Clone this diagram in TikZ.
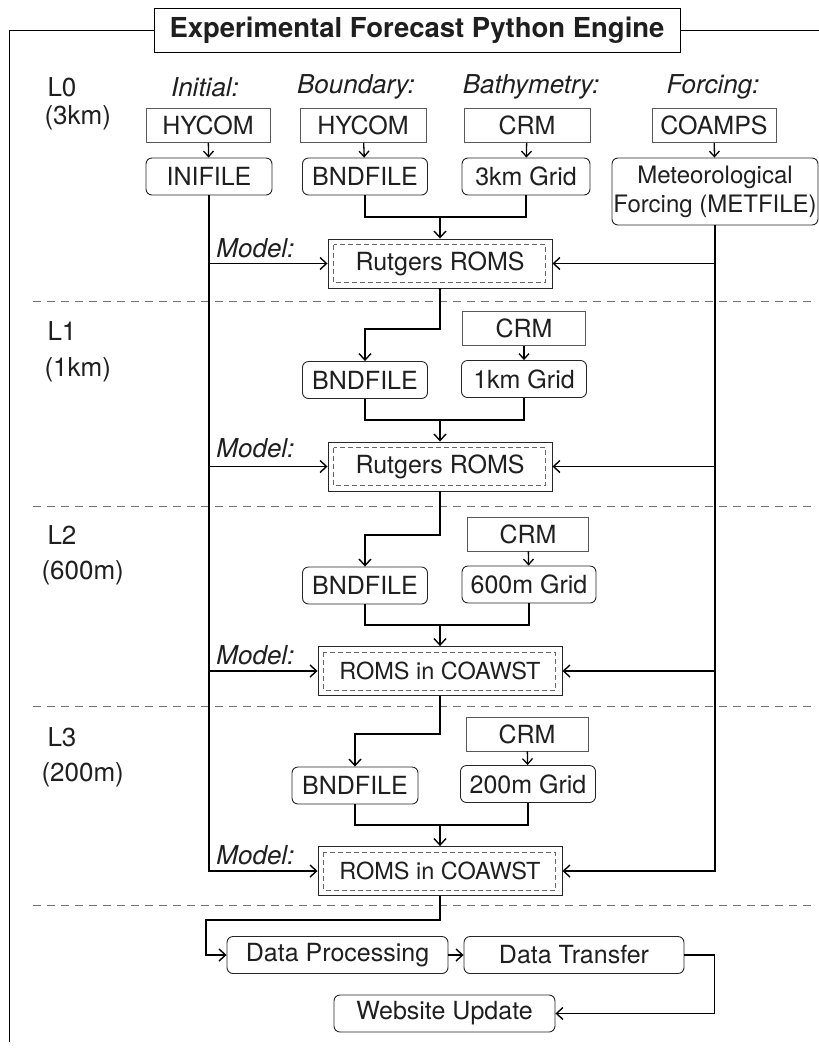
\documentclass[tikz,border=0pt]{standalone}
\usepackage{fontspec}
\setmainfont{TeX Gyre Heros}
\usepackage{tikz}
\usetikzlibrary{arrows.meta, positioning, calc}

\begin{document}
\begin{tikzpicture}[x=1pt, y=-1pt,
  every node/.style={font=\fontsize{25}{28}\selectfont, text=black!88},
  src/.style={draw=black!65, line width=0.9pt, minimum height=34pt, inner sep=0pt},
  file/.style={draw=black!85, rounded corners=6pt, line width=0.9pt, minimum height=37pt, inner sep=0pt},
  model/.style={draw=black!85, line width=0.9pt, minimum height=49pt, inner sep=0pt},
  hdr/.style={font=\fontsize{26}{29}\selectfont\itshape},
  lvl/.style={anchor=west, font=\fontsize{26}{29}\selectfont},
  flow/.style={line width=1.8pt},
  arr/.style={-{Straight Barb[length=6.5pt,width=12pt,line width=1.4pt]}},
  small/.style={line width=1.3pt, -{Straight Barb[length=5.5pt,width=10pt,line width=1.3pt]}},
  levelsep/.style={black!55, line width=0.9pt, dash pattern=on 8pt off 6pt},
  inner/.style={black!60, line width=0.8pt, dash pattern=on 5pt off 3pt}
]
  \useasboundingbox (0,0) rectangle (819,1050);

  % Frame and title
  \node[draw, line width=0.9pt, minimum width=526pt, minimum height=44pt,
        font=\fontsize{27.5}{30}\selectfont\bfseries] (title) at (417,30) {Experimental Forecast Python Engine};
  \coordinate (fbot) at (9,1042);
  \draw[line width=0.9pt] (title.west) -- (9,30) -- (fbot);
  \draw[line width=0.9pt] (title.east) -- (819,30);

  % Level separators
  \foreach \y in {301,506,706,905}
    \draw[levelsep] (33,\y) -- (812,\y);

  % Level labels
  \node[lvl] (l0) at (44,87) {L0};
  \node[lvl] (l0r) at (41,118) {(3km)};
  \node[lvl] (l1) at (44,331) {L1};
  \node[lvl] (l1r) at (41,370) {(1km)};
  \node[lvl] (l2) at (44,535) {L2};
  \node[lvl] (l2r) at (38,573) {(600m)};
  \node[lvl] (l3) at (44,737) {L3};
  \node[lvl] (l3r) at (38,775) {(200m)};

  % Column headers
  \node[hdr] (hini) at (205,87) {Initial:};
  \node[hdr] (hbnd) at (356,87) {Boundary:};
  \node[hdr] (hbat) at (531,87) {Bathymetry:};
  \node[hdr] (hfor) at (713,87) {Forcing:};

  % L0 inputs
  \node[src, minimum width=124pt] (hyc1) at (208,125.5) {HYCOM};
  \node[file, minimum width=126pt] (ini) at (209,176.5) {INIFILE};
  \node[src, minimum width=126pt] (hyc2) at (363,125.5) {HYCOM};
  \node[file, minimum width=125pt] (bnd0) at (365,176.5) {BNDFILE};
  \node[src, minimum width=126pt] (crm0) at (527,125.5) {CRM};
  \node[file, minimum width=128pt] (grd0) at (526,176.5) {3km Grid};
  \node[src, minimum width=124pt] (coa) at (714,125.5) {COAMPS};
  \node[file, minimum width=206pt, minimum height=67pt, align=center,
        font=\fontsize{24}{29}\selectfont] (met) at (715,191.5) {Meteorological\\Forcing (METFILE)};

  % L1 inputs
  \node[file, minimum width=125pt] (bnd1) at (365,380) {BNDFILE};
  \node[src, minimum width=123pt] (crm1) at (524,328.5) {CRM};
  \node[file, minimum width=125pt] (grd1) at (524,379) {1km Grid};

  % L2 inputs
  \node[file, minimum width=125pt] (bnd2) at (365,585.5) {BNDFILE};
  \node[src, minimum width=121pt] (crm2) at (528,534) {CRM};
  \node[file, minimum width=134pt] (grd2) at (529,584.5) {600m Grid};

  % L3 inputs
  \node[file, minimum width=126pt] (bnd3) at (355,785.5) {BNDFILE};
  \node[src, minimum width=122pt] (crm3) at (527,734) {CRM};
  \node[file, minimum width=135pt] (grd3) at (528,784) {200m Grid};

  % Models
  \node[model, minimum width=224pt, font=\fontsize{25}{28}\selectfont] (r0) at (440,263.5) {Rutgers ROMS};
  \node[model, minimum width=224pt, font=\fontsize{25}{28}\selectfont] (r1) at (440,466.5) {Rutgers ROMS};
  \node[model, minimum width=244pt, font=\fontsize{23.5}{26}\selectfont] (r2) at (440,671) {ROMS in COAWST};
  \node[model, minimum width=244pt, font=\fontsize{23.5}{26}\selectfont] (r3) at (440,871) {ROMS in COAWST};
  \foreach \m in {r0,r1,r2,r3}
    \draw[inner] ($(\m.north west)+(6,6)$) rectangle ($(\m.south east)+(-7,-6)$);

  \node[hdr, anchor=east] (m0) at (298,248) {Model:};
  \node[hdr, anchor=east] (m1) at (298,448) {Model:};
  \node[hdr, anchor=east] (m2) at (298,655) {Model:};
  \node[hdr, anchor=east] (m3) at (298,855) {Model:};

  % Post processing
  \node[file, minimum width=221pt] (dp) at (337.5,955) {Data Processing};
  \node[file, minimum width=220pt] (dt) at (574,955) {Data Transfer};
  \node[file, minimum width=221pt] (wu) at (444.5,1013.5) {Website Update};

  % Source arrows
  \draw[small] (hyc1) -- (ini);
  \draw[small] (hyc2) -- (bnd0);
  \draw[small] (crm0) -- (grd0);
  \draw[small] (coa) -- (met);
  \draw[small] (crm1) -- (grd1);
  \draw[small] (crm2) -- (grd2);
  \draw[small] (crm3) -- (grd3);

  % Boundary + grid into models
  \coordinate (j0) at (440,217);
  \coordinate (j1) at (440,420);
  \coordinate (j2) at (440,625);
  \coordinate (j3) at (440,825);
  \draw[flow] (bnd0.south) |- (j0) -| (grd0.south);
  \draw[flow] (bnd1.south) |- (j1) -| (grd1.south);
  \draw[flow] (bnd2.south) |- (j2) -| (grd2.south);
  \draw[flow] (bnd3.south) |- (j3) -| (grd3.south);
  \draw[flow, arr] (j0) -- (r0.north);
  \draw[flow, arr] (j1) -- (r1.north);
  \draw[flow, arr] (j2) -- (r2.north);
  \draw[flow, arr] (j3) -- (r3.north);

  % Parent model to child boundary
  \coordinate (k1) at (440,329);
  \coordinate (k2) at (440,535);
  \coordinate (k3) at (440,734);
  \draw[flow, arr] (r0.south) -- (k1) -| (bnd1.north);
  \draw[flow, arr] (r1.south) -- (k2) -| (bnd2.north);
  \draw[flow, arr] (r2.south) -- (k3) -| (bnd3.north);

  % Initial and forcing lines
  \draw[flow, arr] (ini.south) |- (r3.west);
  \draw[flow, arr] (met.south) |- (r3.east);
  \foreach \m in {r0,r1,r2} {
    \draw[flow, arr] (ini.south |- \m.west) -- (\m.west);
    \draw[flow, arr] (met.south |- \m.east) -- (\m.east);
  }

  % Output chain
  \coordinate (k4) at (440,920);
  \coordinate (k5) at (206,955);
  \draw[flow, arr] (r3.south) -- (k4) -| (k5) -- (dp.west);
  \draw[flow, arr] (dp.east) -- (dt.west);
  \draw[flow, arr] (dt.east) -- ++(30,0) |- (wu.east);
\end{tikzpicture}
\end{document}
